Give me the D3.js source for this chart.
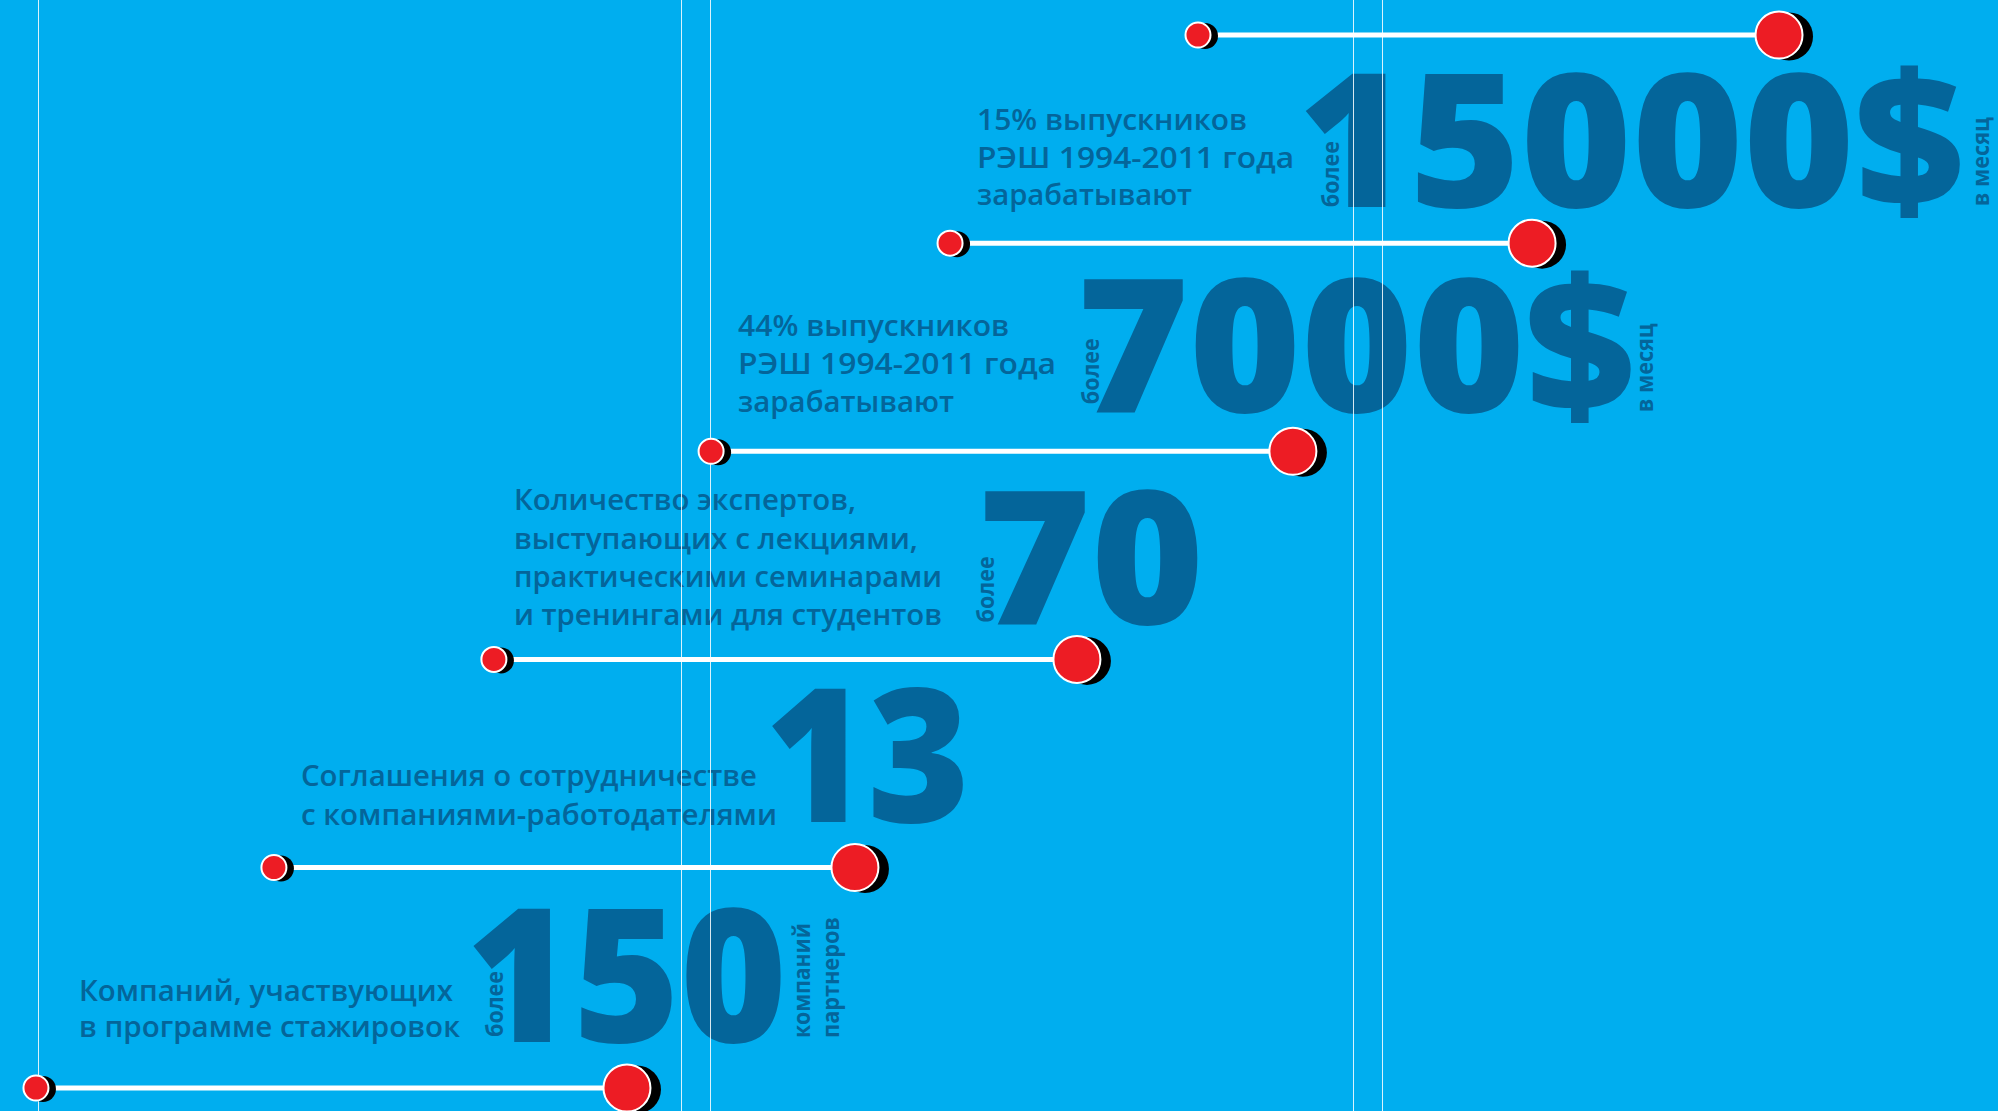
<!DOCTYPE html>
<html><head><meta charset="utf-8">
<script src="https://cdn.jsdelivr.net/npm/d3@7"></script>
<style>html,body{margin:0;padding:0;background:#00AEEF;overflow:hidden}svg{display:block}</style>
</head><body><svg id="chart"></svg>
<script>
// ---------- data ----------
const rowIndex = [0, 1, 2, 3, 4, 5];                       // dumbbell rows, bottom to top
const startValues = [1.80, 13.71, 24.72, 35.59, 47.55, 59.96]; // % of page width
const endValues   = [31.38, 42.79, 53.90, 64.71, 76.68, 89.04];
const gridValues  = [1.90, 34.08, 35.54, 67.72, 69.17];    // vertical guides, % of width
const figures  = ["150", "13", "70", "7000$", "15000$"];
const prefixes = ["более", "", "более", "более", "более"];
const suffixes = [["компаний", "партнеров"], [], [], ["в месяц"], ["в месяц"]];
const descriptions = [
  ["Компаний, участвующих", "в программе стажировок"],
  ["Соглашения о сотрудничестве", "с компаниями-работодателями"],
  ["Количество экспертов,", "выступающих с лекциями,", "практическими семинарами", "и тренингами для студентов"],
  ["44% выпускников", "РЭШ 1994-2011 года", "зарабатывают"],
  ["15% выпускников", "РЭШ 1994-2011 года", "зарабатывают"]
];

// ---------- layout (offsets relative to the lower dumbbell of each block) ----------
const layout = [
  {labelDx: 43, labelBase: -51, lineH: 36, widths: [374, 381], numDx: 430, numBase: -46, numW: 321,
   preDx: 467, preBase: -51, sufDx: [774, 803], sufBase: -50, sufW: [115, 121]},
  {labelDx: 27, labelBase: -42.5, lineH: 39, widths: [456, 476], numDx: 491, numBase: -45.5, numW: 205},
  {labelDx: 20, labelBase: -34, lineH: 38.3, widths: [342, 404, 428, 428], numDx: 484, numBase: -35, numW: 226,
   preDx: 500, preBase: -37},
  {labelDx: 27, labelBase: -39, lineH: 38, widths: [271, 318, 216], numDx: 366, numBase: -39, numW: 558,
   preDx: 388, preBase: -47, sufDx: [942], sufBase: -39, sufW: [89]},
  {labelDx: 27, labelBase: -38, lineH: 37.5, widths: [270, 317, 215], numDx: 348, numBase: -36, numW: 666,
   preDx: 389, preBase: -36, sufDx: [1039], sufBase: -37, sufW: [89]}
];

const W = 1998, H = 1111;
const BG = "#00AEEF", INK = "#04659A", RED = "#ED1C24";

const svg = d3.select("#chart").attr("width", W).attr("height", H);
svg.append("rect").attr("width", W).attr("height", H).attr("fill", BG);

const x = d3.scaleLinear().domain([0, 100]).range([0, W]);
const y = d3.scaleLinear().domain([0, 1, 5]).range([1088, 867.5, 35]);

// ---------- text blocks ----------
const blocks = svg.append("g");
figures.forEach((fig, i) => {
  const L = layout[i];
  const xs = x(startValues[i]), yr = y(rowIndex[i]);
  const g = blocks.append("g");
  const lines = descriptions[i];
  const n = lines.length;
  g.selectAll("text.desc").data(lines).join("text")
    .attr("class", "desc")
    .attr("x", xs + L.labelDx)
    .attr("y", (d, j) => yr + L.labelBase - (n - 1 - j) * L.lineH)
    .attr("textLength", (d, j) => L.widths[j])
    .attr("lengthAdjust", "spacingAndGlyphs")
    .attr("font-family", "'Open Sans', 'Noto Sans', sans-serif")
    .attr("font-weight", 600)
    .attr("font-size", 29)
    .attr("fill", INK)
    .text(d => d);

  g.append("text")
    .attr("x", xs + L.numDx)
    .attr("y", yr + L.numBase)
    .attr("textLength", L.numW)
    .attr("lengthAdjust", "spacingAndGlyphs")
    .attr("font-family", "'Open Sans', 'Noto Sans', sans-serif")
    .attr("font-weight", 800)
    .attr("font-size", 186)
    .attr("fill", INK)
    .text(fig);

  if (prefixes[i]) {
    g.append("text")
      .attr("transform", `translate(${xs + L.preDx},${yr + L.preBase}) rotate(-90)`)
      .attr("textLength", 66)
      .attr("lengthAdjust", "spacingAndGlyphs")
      .attr("font-family", "'Open Sans', 'Noto Sans', sans-serif")
      .attr("font-weight", 700)
      .attr("font-size", 23)
      .attr("fill", INK)
      .text(prefixes[i]);
  }
  suffixes[i].forEach((s, k) => {
    g.append("text")
      .attr("transform", `translate(${xs + L.sufDx[k]},${yr + L.sufBase}) rotate(-90)`)
      .attr("textLength", L.sufW[k])
      .attr("lengthAdjust", "spacingAndGlyphs")
      .attr("font-family", "'Open Sans', 'Noto Sans', sans-serif")
      .attr("font-weight", 700)
      .attr("font-size", 24)
      .attr("fill", INK)
      .text(s);
  });
});

// ---------- vertical guides ----------
svg.append("g").selectAll("line").data(gridValues).join("line")
  .attr("x1", d => Math.round(x(d)) + 0.5).attr("x2", d => Math.round(x(d)) + 0.5)
  .attr("y1", 0).attr("y2", H)
  .attr("stroke", "#fff").attr("stroke-opacity", 0.85).attr("stroke-width", 1);

// ---------- dumbbells ----------
const db = svg.append("g").selectAll("g").data(rowIndex).join("g");
db.append("line")
  .attr("x1", i => x(startValues[i])).attr("x2", i => x(endValues[i]))
  .attr("y1", i => y(i)).attr("y2", i => y(i))
  .attr("stroke", "#fff").attr("stroke-width", 5);
// shadows
db.append("circle").attr("cx", i => x(startValues[i]) + 7).attr("cy", i => y(i) + 1)
  .attr("r", 13).attr("fill", "#000");
db.append("circle").attr("cx", i => x(endValues[i]) + 10).attr("cy", i => y(i) + 1.5)
  .attr("r", 24).attr("fill", "#000");
// dots
db.append("circle").attr("cx", i => x(startValues[i])).attr("cy", i => y(i))
  .attr("r", 12.5).attr("fill", RED).attr("stroke", "#fff").attr("stroke-width", 2);
db.append("circle").attr("cx", i => x(endValues[i])).attr("cy", i => y(i))
  .attr("r", 23.5).attr("fill", RED).attr("stroke", "#fff").attr("stroke-width", 2);
</script>
</body></html>
